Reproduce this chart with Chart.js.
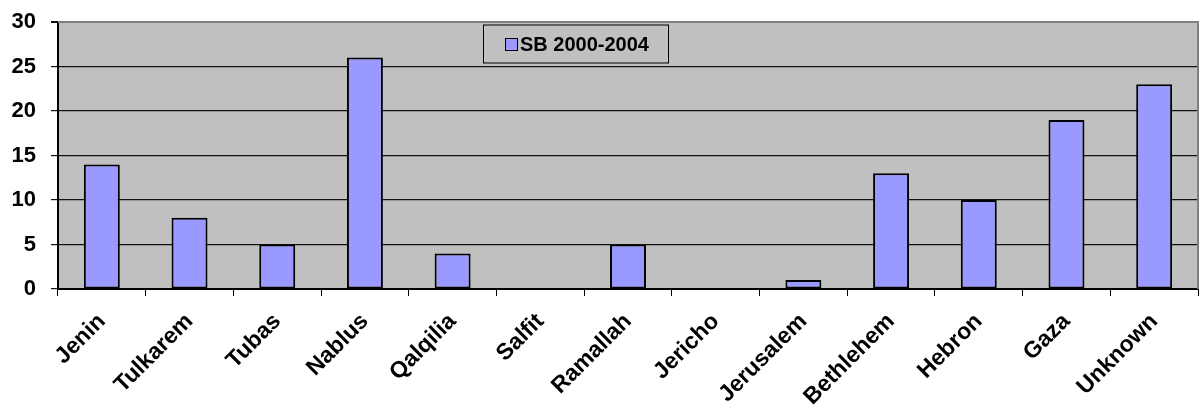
<!DOCTYPE html>
<html>
<head>
<meta charset="utf-8">
<script src="https://cdn.jsdelivr.net/npm/chart.js@4/dist/chart.umd.min.js"></script>
<style>
html,body{margin:0;padding:0;background:#fff;}
#wrap{width:1200px;height:405px;position:relative;}
</style>
</head>
<body>
<div id="wrap"><canvas id="c" width="1200" height="405"></canvas></div>
<script>
const categories = ["Jenin","Tulkarem","Tubas","Nablus","Qalqilia","Salfit","Ramallah","Jericho","Jerusalem","Bethlehem","Hebron","Gaza","Unknown"];
const seriesName = "SB 2000-2004";
const seriesValues = [14, 8, 5, 26, 4, 0, 5, 0, 1, 13, 10, 19, 23];
const yTicks = [0, 5, 10, 15, 20, 25, 30];

const FONT = "'Liberation Sans', Arial, sans-serif";
const PLOT_BG = "#C0C0C0";
const BAR = "#9999FF";

const bgPlugin = {
  id: 'bg',
  beforeDraw(chart) {
    const {ctx, chartArea: a} = chart;
    ctx.save();
    ctx.fillStyle = PLOT_BG;
    ctx.fillRect(a.left, a.top, a.right - a.left, a.bottom - a.top);
    ctx.restore();
  },
  afterDraw(chart) {
    const {ctx, chartArea: a} = chart;
    ctx.save();
    ctx.strokeStyle = "#808080";
    ctx.lineWidth = 2;
    ctx.beginPath();
    ctx.moveTo(a.left, a.top);
    ctx.lineTo(a.right, a.top);
    ctx.lineTo(a.right, a.bottom);
    ctx.stroke();
    const lx = 483, ly = 24.5, lw = 185, lh = 38;
    ctx.fillStyle = PLOT_BG;
    ctx.fillRect(lx, ly, lw, lh);
    ctx.strokeStyle = "#000";
    ctx.lineWidth = 1;
    ctx.strokeRect(lx + 0.5, ly + 0.5, lw, lh);
    ctx.fillStyle = BAR;
    ctx.fillRect(505, 38, 13, 13);
    ctx.strokeRect(505.5, 38.5, 12, 12);
    ctx.fillStyle = "#000";
    ctx.font = "bold 20px " + FONT;
    ctx.textBaseline = "middle";
    ctx.textAlign = "left";
    ctx.fillText(chart.data.datasets[0].label, 520, 45);
    ctx.restore();
  }
};

new Chart(document.getElementById('c'), {
  type: 'bar',
  data: {
    labels: categories,
    datasets: [{
      label: seriesName,
      data: seriesValues,
      backgroundColor: BAR,
      borderColor: '#000',
      borderWidth: 2,
      borderSkipped: false,
      categoryPercentage: 1.0,
      barPercentage: 0.41
    }]
  },
  options: {
    responsive: false,
    animation: false,
    devicePixelRatio: 1,
    layout: { padding: { left: 0, right: 2, top: 22, bottom: 0 } },
    plugins: { legend: { display: false }, tooltip: { enabled: false } },
    scales: {
      x: {
        offset: true,
        grid: { offset: true, drawOnChartArea: false, color: '#000', tickLength: 7, tickWidth: 1 },
        border: { color: '#000', width: 2 },
        ticks: {
          color: '#000',
          font: { family: FONT, size: 23, weight: 'bold' },
          minRotation: 45, maxRotation: 45, autoSkip: false, padding: 12
        },
        afterFit(scale) { scale.height = 116; scale.paddingTop = 0; scale.paddingLeft = 0; scale.paddingRight = 0; scale.paddingBottom = 0; }
      },
      y: {
        min: 0, max: 30,
        afterBuildTicks(scale) { scale.ticks = yTicks.map(v => ({ value: v })); },
        grid: {
          color: ctx => (ctx.tick && ctx.tick.value === 30) ? '#808080' : '#111',
          lineWidth: ctx => (ctx.tick && ctx.tick.value === 30) ? 2 : 1.2,
          tickColor: '#111',
          tickLength: 7
        },
        border: { color: '#000', width: 2 },
        ticks: {
          color: '#000',
          font: { family: FONT, size: 22, weight: 'bold' },
          padding: 15
        },
        afterFit(scale) { scale.width = 58; scale.paddingTop = 0; scale.paddingBottom = 0; }
      }
    }
  },
  plugins: [bgPlugin]
});
</script>
</body>
</html>
